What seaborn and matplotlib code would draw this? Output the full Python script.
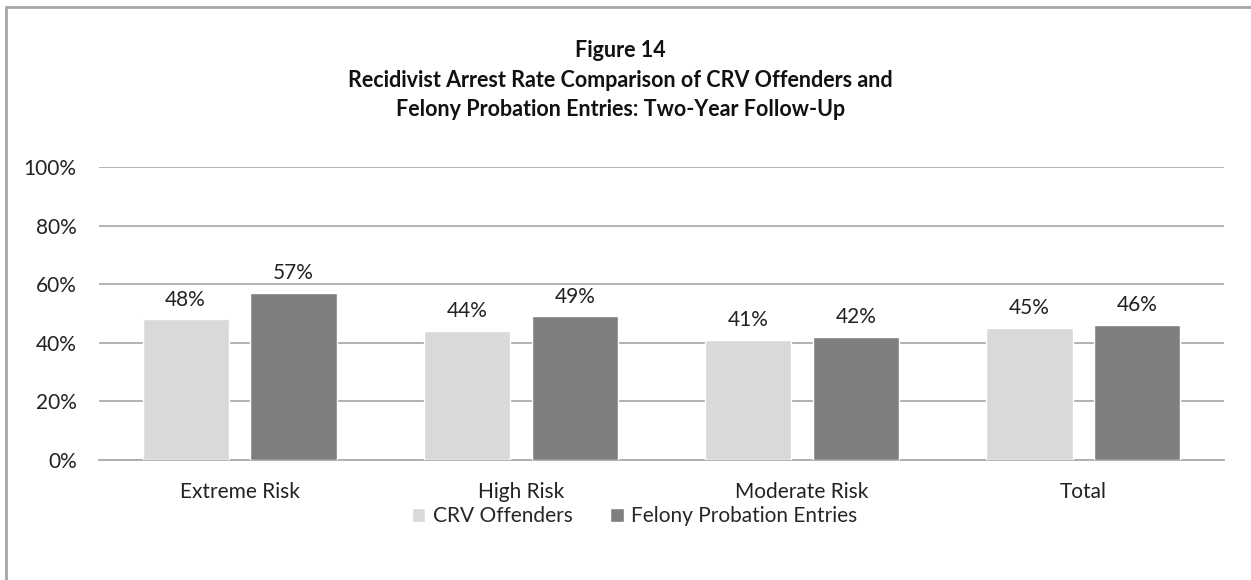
import pandas as pd
import matplotlib.pyplot as plt
import seaborn as sns
from matplotlib.lines import Line2D
from matplotlib.ticker import PercentFormatter

categories = ["Extreme Risk", "High Risk", "Moderate Risk", "Total"]
series_names = ["CRV Offenders", "Felony Probation Entries"]
crv_values = [48, 44, 41, 45]
felony_values = [57, 49, 42, 46]
title_lines = ["Figure 14",
               "Recidivist Arrest Rate Comparison of CRV Offenders and",
               "Felony Probation Entries: Two-Year Follow-Up"]

df = pd.DataFrame({
    "Category": categories * 2,
    "Series": [series_names[0]] * 4 + [series_names[1]] * 4,
    "Rate": crv_values + felony_values,
})

sns.set_style("white")
plt.rcParams["font.family"] = ["Lato", "DejaVu Sans"]

fig = plt.figure(figsize=(12.51, 5.8), dpi=100)
ax = fig.add_axes([0.0791, 0.2069, 0.8993, 0.5052])

palette = {series_names[0]: "#D9D9D9", series_names[1]: "#7F7F7F"}
sns.barplot(data=df, x="Category", y="Rate", hue="Series", palette=palette,
            width=0.767, gap=0.2, ax=ax, zorder=3, saturation=1)

for cont in ax.containers:
    ax.bar_label(cont, labels=[f"{v:.0f}%" for v in cont.datavalues],
                 padding=7, fontsize=15, color="#222222")

ax.set_ylim(0, 100)
ax.set_yticks(range(0, 101, 20))
ax.yaxis.set_major_formatter(PercentFormatter(decimals=0))
ax.grid(axis="y", color="#ADADAD", linewidth=1.3, zorder=0)
ax.set_axisbelow(True)
for s in ["top", "right", "left"]:
    ax.spines[s].set_visible(False)
ax.spines["bottom"].set_color("#ADADAD")
ax.spines["bottom"].set_linewidth(1.3)
ax.tick_params(axis="both", length=0, labelsize=15, colors="#222222")
ax.tick_params(axis="y", pad=16)
ax.tick_params(axis="x", pad=16)
ax.set_xlabel("")
ax.set_ylabel("")

ax.legend(loc="center", bbox_to_anchor=(0.476, -0.191), ncol=2, frameon=False,
          fontsize=15, handlelength=0.65, handleheight=0.65, handletextpad=0.35,
          columnspacing=1.8)

fig.text(0.496, 1 - 80 / 580, "\n".join(title_lines), ha="center", va="center",
         fontsize=15.5, fontweight="bold", linespacing=1.5, color="#111111")

# chart border (runs off the right and bottom edges)
fig.add_artist(Line2D([6 / 1251, 1], [1 - 7 / 580] * 2, color="#A6A6A6", lw=2,
                      transform=fig.transFigure))
fig.add_artist(Line2D([6 / 1251] * 2, [0, 1 - 7 / 580], color="#A6A6A6", lw=2,
                      transform=fig.transFigure))

fig.savefig("out.png", dpi=100)
